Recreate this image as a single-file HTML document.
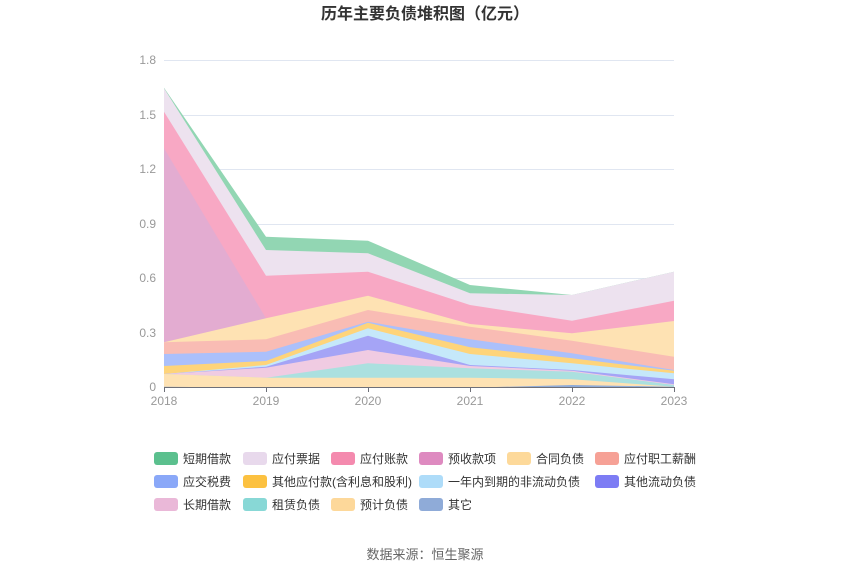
<!DOCTYPE html>
<html><head><meta charset="utf-8"><style>
body{margin:0;background:#fff;font-family:"Liberation Sans","Noto Sans CJK SC",sans-serif}
</style></head><body>
<svg width="850" height="575" xmlns="http://www.w3.org/2000/svg" font-family="Liberation Sans, Noto Sans CJK SC, sans-serif">
<text x="425" y="19" text-anchor="middle" font-size="16" font-weight="bold" fill="#333">历年主要负债堆积图（亿元）</text>
<g stroke="#e0e6f1" stroke-width="1">
<line x1="164" x2="674" y1="60.5" y2="60.5"/><line x1="164" x2="674" y1="115.5" y2="115.5"/><line x1="164" x2="674" y1="169.5" y2="169.5"/><line x1="164" x2="674" y1="224.5" y2="224.5"/><line x1="164" x2="674" y1="278.5" y2="278.5"/><line x1="164" x2="674" y1="333.5" y2="333.5"/>
</g>
<g font-size="12" fill="#999" text-anchor="end">
<text x="156" y="64">1.8</text><text x="156" y="119">1.5</text><text x="156" y="173">1.2</text><text x="156" y="228">0.9</text><text x="156" y="282">0.6</text><text x="156" y="337">0.3</text><text x="156" y="391">0</text>
</g>
<g>
<polygon fill="#92d6b3" points="164,87.7 266,236.7 368,240.7 470,285 572,295 674,271.7 674,388 164,388"/>
<polygon fill="#ede2ef" points="164,88.3 266,250 368,253.3 470,293.3 572,295 674,271.7 674,388 164,388"/>
<polygon fill="#f8a8c4" points="164,111.7 266,275.7 368,271.7 470,305 572,320.7 674,300.7 674,388 164,388"/>
<polygon fill="#e3acd1" points="164,148.3 266,318.3 368,295.7 470,324 572,333.3 674,321 674,388 164,388"/>
<polygon fill="#fee2b3" points="164,342.3 266,318.3 368,295.7 470,324 572,333.3 674,321 674,388 164,388"/>
<polygon fill="#f9bcb4" points="164,342.3 266,339.3 368,310 470,326.7 572,340.7 674,356.7 674,388 164,388"/>
<polygon fill="#abc0fb" points="164,354 266,351.7 368,321.7 470,339.3 572,353.3 674,370 674,388 164,388"/>
<polygon fill="#fed47a" points="164,366 266,361 368,322.7 470,347.3 572,358.3 674,370.7 674,388 164,388"/>
<polygon fill="#c5e8fa" points="164,374 266,365 368,328.3 470,354 572,363.3 674,373.3 674,388 164,388"/>
<polygon fill="#a5a4f6" points="164,374 266,366.7 368,335.7 470,365 572,370 674,379.3 674,388 164,388"/>
<polygon fill="#f0cbe2" points="164,374 266,367.7 368,350 470,366 572,370.7 674,384.3 674,388 164,388"/>
<polygon fill="#abe0df" points="164,374 266,377.7 368,363.3 470,368.3 572,371.7 674,385 674,388 164,388"/>
<polygon fill="#fee2b3" points="164,374 266,377.7 368,377.7 470,377.7 572,379.3 674,386.7 674,388 164,388"/>
<polygon fill="#8fabd8" points="164,386.7 266,387.7 368,387.7 470,387.7 572,385 674,386.7 674,388 164,388"/>
</g>
<line x1="164" x2="674" y1="387.5" y2="387.5" stroke="#6e7079"/>
<g stroke="#6e7079"><line x1="164.5" x2="164.5" y1="387" y2="392"/><line x1="266.5" x2="266.5" y1="387" y2="392"/><line x1="368.5" x2="368.5" y1="387" y2="392"/><line x1="470.5" x2="470.5" y1="387" y2="392"/><line x1="572.5" x2="572.5" y1="387" y2="392"/><line x1="674.5" x2="674.5" y1="387" y2="392"/></g>
<g font-size="12" fill="#999" text-anchor="middle">
<text x="164" y="405">2018</text><text x="266" y="405">2019</text><text x="368" y="405">2020</text><text x="470" y="405">2021</text><text x="572" y="405">2022</text><text x="674" y="405">2023</text>
</g>
<g font-size="12" fill="#333">
<rect x="154" y="452" width="24" height="13" rx="3" fill="#5bc08e"/><text x="183" y="463">短期借款</text>
<rect x="243" y="452" width="24" height="13" rx="3" fill="#e8d9ec"/><text x="272" y="463">应付票据</text>
<rect x="331" y="452" width="24" height="13" rx="3" fill="#f48aae"/><text x="360" y="463">应付账款</text>
<rect x="419" y="452" width="24" height="13" rx="3" fill="#de8ac0"/><text x="448" y="463">预收款项</text>
<rect x="507" y="452" width="24" height="13" rx="3" fill="#fdd99a"/><text x="536" y="463">合同负债</text>
<rect x="595" y="452" width="24" height="13" rx="3" fill="#f6a196"/><text x="624" y="463">应付职工薪酬</text>
<rect x="154" y="475" width="24" height="13" rx="3" fill="#8aa8f8"/><text x="183" y="486">应交税费</text>
<rect x="243" y="475" width="24" height="13" rx="3" fill="#fcc140"/><text x="272" y="486">其他应付款(含利息和股利)</text>
<rect x="419" y="475" width="24" height="13" rx="3" fill="#aedcf9"/><text x="448" y="486">一年内到期的非流动负债</text>
<rect x="595" y="475" width="24" height="13" rx="3" fill="#7d7cf4"/><text x="624" y="486">其他流动负债</text>
<rect x="154" y="498" width="24" height="13" rx="3" fill="#eab8d8"/><text x="183" y="509">长期借款</text>
<rect x="243" y="498" width="24" height="13" rx="3" fill="#88d8d6"/><text x="272" y="509">租赁负债</text>
<rect x="331" y="498" width="24" height="13" rx="3" fill="#fdd89a"/><text x="360" y="509">预计负债</text>
<rect x="419" y="498" width="24" height="13" rx="3" fill="#8fabd8"/><text x="448" y="509">其它</text>
</g>
<text x="425" y="559" text-anchor="middle" font-size="13" fill="#666">数据来源：恒生聚源</text>
</svg>
</body></html>
